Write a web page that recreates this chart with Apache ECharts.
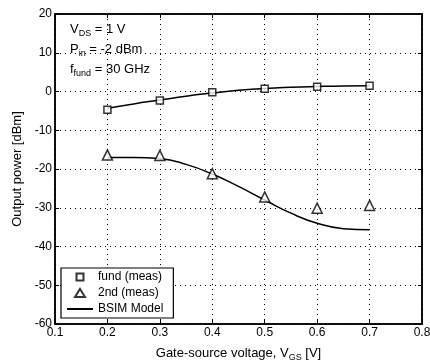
<!DOCTYPE html>
<html>
<head>
<meta charset="utf-8">
<script src="https://cdn.jsdelivr.net/npm/echarts@6/dist/echarts.min.js"></script>
<style>
  html, body { margin: 0; padding: 0; background: #fff; }
  #chart { width: 430px; height: 362px; }
</style>
</head>
<body>
<div id="chart"></div>
<script>
const vgs = [0.2, 0.3, 0.4, 0.5, 0.6, 0.7]
const fundMeas = [-4.7, -2.3, -0.2, 0.7, 1.2, 1.5]
const secondMeas = [-16.4, -16.5, -21.2, -27.2, -30.1, -29.4]
const modelX = [0.2, 0.25, 0.3, 0.35, 0.4, 0.45, 0.5, 0.55, 0.6, 0.65, 0.7]
const fundModel = [-4.3, -3.2, -2.2, -1.2, -0.4, 0.3, 0.8, 1.1, 1.3, 1.45, 1.5]
const secondModel = [-17, -17, -17.3, -18.8, -21.3, -24.5, -28, -31.4, -34, -35.4, -35.7]

const pair = (xs, ys) => xs.map((x, i) => [x, ys[i]])

const chart = echarts.init(document.getElementById('chart'))
const font = 'Liberation Sans, Arial, sans-serif'
const dotted = { lineStyle: { color: '#000', type: [1, 4], width: 1 } }
const tick = { inside: true, length: 4, lineStyle: { color: '#000' } }
const axisLine = { onZero: false, lineStyle: { color: '#000', width: 1.5 } }
const sub = { sub: { fontSize: 9, padding: [8, 0, 0, 0] } }

// legend icons: the leading moves keep the box 26x10 so the marks are not stretched
const rectIcon = 'path://M0,0 M26,10 M9.5,1.5 L16.5,1.5 L16.5,8.5 L9.5,8.5 Z'
const triIcon = 'path://M0,0 M26,10 M13,1 L18,9 L8,9 Z'

const option = {
  backgroundColor: '#fff',
  animation: false,
  textStyle: { fontFamily: font, color: '#000' },
  grid: {
    left: 55,
    right: 8,
    top: 14,
    bottom: 38,
    outerBoundsMode: 'none',
    show: true,
    borderColor: '#000',
    borderWidth: 1.5,
  },
  xAxis: [
    {
      type: 'value',
      min: 0.1,
      max: 0.8,
      interval: 0.1,
      name: 'Gate-source voltage, V{sub|GS} [V]',
      nameLocation: 'middle',
      nameGap: 21,
      nameTextStyle: { fontSize: 13, color: '#000', rich: sub },
      axisLine: axisLine,
      axisTick: tick,
      axisLabel: {
        color: '#000',
        fontSize: 12,
        margin: 3,
        formatter: (v) => v.toFixed(1),
      },
      splitLine: dotted,
    },
    {
      type: 'value',
      position: 'top',
      min: 0.1,
      max: 0.8,
      interval: 0.1,
      axisLine: axisLine,
      axisTick: tick,
      axisLabel: { show: false },
      splitLine: { show: false },
    },
  ],
  yAxis: [
    {
      type: 'value',
      min: -60,
      max: 20,
      interval: 10,
      name: 'Output power [dBm]',
      nameLocation: 'middle',
      nameGap: 28,
      nameTextStyle: { fontSize: 13, color: '#000' },
      axisLine: axisLine,
      axisTick: tick,
      axisLabel: { color: '#000', fontSize: 12, margin: 3 },
      splitLine: dotted,
    },
    {
      type: 'value',
      position: 'right',
      min: -60,
      max: 20,
      interval: 10,
      axisLine: axisLine,
      axisTick: tick,
      axisLabel: { show: false },
      splitLine: { show: false },
    },
  ],
  legend: {
    orient: 'vertical',
    left: 61,
    top: 268,
    itemGap: 4,
    itemWidth: 26,
    itemHeight: 10,
    padding: [3, 10, 3, 5],
    borderColor: '#000',
    borderWidth: 1.2,
    backgroundColor: '#fff',
    textStyle: { fontSize: 12, color: '#000', fontFamily: font },
    data: [
      { name: 'fund (meas)', icon: rectIcon },
      { name: '2nd (meas)', icon: triIcon },
      { name: 'BSIM Model', itemStyle: { opacity: 0 } },
    ],
  },
  graphic: [
    {
      type: 'text',
      left: 70,
      top: 23,
      style: { text: 'V{sub|DS} = 1 V', font: '13px ' + font, fill: '#000', rich: sub },
    },
    {
      type: 'text',
      left: 70,
      top: 43,
      style: { text: 'P{sub|in} = -2 dBm', font: '13px ' + font, fill: '#000', rich: sub },
    },
    {
      type: 'text',
      left: 70,
      top: 63,
      style: { text: 'f{sub|fund} = 30 GHz', font: '13px ' + font, fill: '#000', rich: sub },
    },
  ],
  series: [
    {
      name: 'fund (meas)',
      type: 'scatter',
      symbol: 'rect',
      symbolSize: 7,
      itemStyle: { color: '#fff', borderColor: '#000', borderWidth: 1.5 },
      z: 5,
      data: pair(vgs, fundMeas),
    },
    {
      name: '2nd (meas)',
      type: 'scatter',
      symbol: 'triangle',
      symbolSize: 10,
      itemStyle: { color: '#fff', borderColor: '#000', borderWidth: 1.5 },
      z: 5,
      data: pair(vgs, secondMeas),
    },
    {
      name: 'BSIM Model',
      type: 'line',
      smooth: true,
      symbol: 'none',
      lineStyle: { color: '#000', width: 1.5 },
      itemStyle: { color: '#000' },
      data: pair(modelX, fundModel),
    },
    {
      name: 'BSIM Model',
      type: 'line',
      smooth: true,
      symbol: 'none',
      lineStyle: { color: '#000', width: 1.5 },
      itemStyle: { color: '#000' },
      data: pair(modelX, secondModel),
    },
  ],
}
chart.setOption(option)
</script>
</body>
</html>
